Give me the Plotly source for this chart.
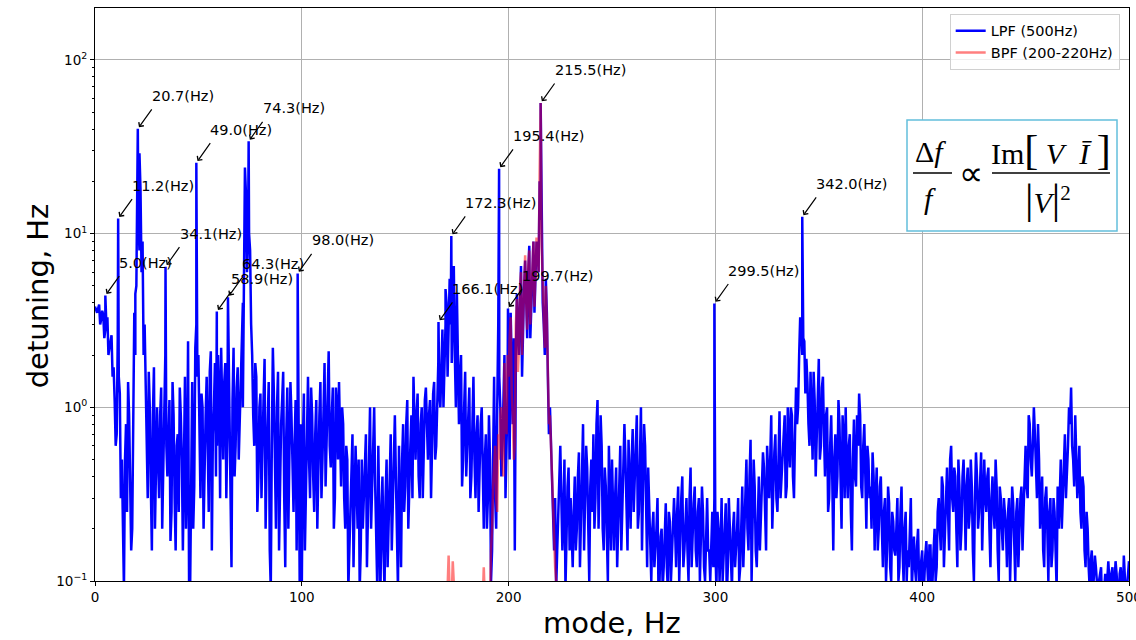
import math
import plotly.graph_objects as go

# ---------------- data ----------------
freq_base = list(range(0, 501))
lpf_base = [
    3.8, 3.5, 3.9, 3.2, 3.4, 2.8, 3.3, 2.2, 2.6, 1.7,
    0.6, 2.5, 1.2, 0.5, 0.09, 0.8, 1.4, 0.4, 0.2, 3.5,
    5.0, 12.0, 18.0, 9.0, 3.0, 0.6, 1.6, 0.35, 0.9, 0.2,
    1.0, 0.3, 1.3, 0.5, 2.0, 0.4, 1.1, 0.25, 0.9, 0.15,
    0.7, 1.3, 0.5, 0.9, 0.2, 2.4, 0.09, 1.4, 0.35, 3.0,
    2.0, 0.3, 1.0, 0.5, 1.5, 0.25, 2.1, 0.7, 1.8, 0.6,
    1.2, 2.2, 0.5, 1.8, 0.7, 1.5, 0.12, 2.2, 0.6, 1.7,
    0.8, 2.5, 6.0, 17.0, 9.0, 8.0, 2.0, 0.6, 1.5, 0.4,
    1.2, 0.7, 1.9, 0.5, 1.4, 0.09, 2.2, 0.6, 1.0, 0.15,
    0.8, 1.6, 0.12, 1.3, 0.5, 0.9, 0.25, 1.1, 0.7, 0.09,
    0.09, 1.2, 0.4, 1.5, 0.3, 0.9, 0.25, 1.1, 0.6, 1.4,
    0.5, 1.8, 0.7, 2.1, 0.45, 1.3, 0.3, 1.0, 1.4, 0.35,
    0.8, 0.2, 0.5, 0.15, 0.4, 0.12, 0.6, 0.2, 0.09, 0.5,
    0.3, 0.7, 0.25, 1.0, 0.4, 1.0, 0.15, 0.6, 0.08, 0.4,
    0.09, 0.5, 0.2, 0.7, 0.3, 0.9, 0.2, 0.6, 0.12, 0.8,
    0.35, 1.1, 0.4, 0.9, 1.5, 0.5, 1.2, 0.3, 1.0, 0.6,
    1.3, 0.5, 1.1, 0.8, 1.4, 0.6, 1.8, 1.0, 2.8, 1.5,
    4.0, 2.5, 3.0, 3.5, 2.0, 4.5, 0.8, 2.0, 0.5, 1.6,
    0.6, 1.3, 0.4, 1.5, 0.3, 0.9, 0.5, 1.0, 0.2, 0.7,
    0.3, 0.5, 0.15, 1.5, 0.2, 3.0, 1.0, 0.6, 2.0, 0.8,
    1.5, 3.5, 0.8, 0.15, 4.5, 2.0, 6.5, 3.0, 7.0, 2.5,
    8.5, 4.0, 9.0, 5.0, 8.5, 20.0, 9.0, 3.0, 5.5, 1.5,
    1.0, 0.4, 0.15, 0.09, 0.25, 0.6, 0.15, 0.5, 0.2, 0.45,
    0.3, 0.12, 0.4, 0.2, 0.55, 0.25, 0.8, 0.3, 0.45, 0.1,
    0.5, 0.7, 0.3, 1.1, 0.4, 0.6, 0.15, 0.35, 0.1, 0.3,
    0.5, 0.15, 0.45, 0.2, 0.6, 0.25, 0.8, 0.3, 0.65, 0.2,
    0.75, 0.35, 0.9, 0.25, 1.0, 0.4, 0.6, 0.12, 0.3, 0.1,
    0.25, 0.15, 0.3, 0.1, 0.2, 0.12, 0.28, 0.09, 0.22, 0.15,
    0.3, 0.12, 0.35, 0.2, 0.4, 0.15, 0.3, 0.1, 0.45, 0.2,
    0.35, 0.12, 0.3, 0.18, 0.25, 0.1, 0.3, 0.15, 0.2, 0.12,
    0.15, 0.25, 0.1, 0.3, 0.15, 0.28, 0.12, 0.2, 0.09, 0.25,
    0.15, 0.3, 0.12, 0.35, 0.2, 0.5, 0.15, 0.65, 0.2, 0.35,
    0.12, 0.4, 0.25, 0.55, 0.2, 0.6, 0.3, 0.9, 0.35, 0.7,
    0.25, 0.95, 0.4, 0.8, 0.3, 1.0, 0.45, 0.9, 0.3, 1.3,
    1.0, 3.3, 2.0, 2.4, 1.9, 0.8, 1.6, 0.5, 1.1, 0.7,
    1.9, 0.6, 1.5, 0.4, 1.0, 0.3, 0.9, 0.15, 0.7, 0.4,
    0.8, 0.2, 0.65, 1.0, 0.3, 0.7, 0.15, 0.85, 0.35, 0.6,
    0.9, 0.3, 0.8, 0.2, 0.5, 0.35, 0.55, 0.15, 0.45, 0.2,
    0.4, 0.12, 0.3, 0.15, 0.28, 0.1, 0.22, 0.14, 0.3, 0.12,
    0.35, 0.1, 0.25, 0.15, 0.2, 0.09, 0.18, 0.1, 0.2, 0.09,
    0.15, 0.1, 0.17, 0.09, 0.16, 0.1, 0.2, 0.12, 0.3, 0.15,
    0.35, 0.2, 0.45, 0.15, 0.6, 0.25, 0.4, 0.12, 0.35, 0.2,
    0.5, 0.15, 0.45, 0.25, 0.35, 0.1, 0.55, 0.2, 0.4, 0.15,
    0.5, 0.25, 0.45, 0.12, 0.4, 0.2, 0.35, 0.1, 0.3, 0.15,
    0.25, 0.12, 0.3, 0.18, 0.28, 0.1, 0.3, 0.2, 0.35, 0.25,
    0.6, 0.3, 0.8, 0.4, 1.0, 0.5, 0.8, 0.2, 0.4, 0.12,
    0.35, 0.1, 0.3, 0.15, 0.25, 0.09, 0.2, 0.5, 0.3, 0.7,
    0.4, 1.0, 1.3, 0.5, 0.9, 0.3, 0.6, 0.2, 0.35, 0.12,
    0.2, 0.09, 0.15, 0.1, 0.12, 0.08, 0.11, 0.07, 0.09, 0.08,
    0.13, 0.08, 0.12, 0.09, 0.11, 0.07, 0.12, 0.08, 0.1, 0.09,
    0.13,
]
# readings at the half-hertz bins (0.5, 1.5, ... 499.5 Hz)
freq_half = [k + 0.5 for k in range(0, 500)]
lpf_half = [
    3.6, 3.7, 3.0, 3.6, 2.5, 3.0, 2.0, 2.4, 1.5, 1.1,
    0.7, 1.5, 0.3, 0.12, 0.5, 0.25, 0.9, 0.15, 1.0, 2.0,
    25.0, 8.0, 6.0, 2.0, 1.2, 0.3, 1.0, 0.15, 1.7, 0.5,
    0.5, 0.9, 0.2, 1.2, 0.6, 0.8, 0.17, 1.4, 0.3, 0.6,
    0.25, 0.9, 0.15, 1.5, 0.4, 0.09, 0.7, 0.2, 2.2, 1.5,
    0.6, 1.2, 0.2, 0.9, 0.5, 1.6, 0.15, 1.0, 0.4, 2.0,
    0.3, 0.9, 1.4, 0.3, 2.6, 0.5, 1.1, 0.4, 1.3, 0.5,
    1.2, 4.0, 12.0, 6.0, 10.0, 3.0, 0.9, 1.8, 0.25, 1.0,
    0.3, 1.1, 0.2, 0.8, 0.15, 0.6, 1.2, 0.2, 1.6, 0.4,
    1.1, 0.3, 0.7, 0.2, 1.4, 0.4, 0.6, 0.15, 1.0, 0.8,
    0.6, 0.15, 0.8, 0.5, 1.3, 0.4, 0.7, 0.2, 0.9, 0.3,
    1.2, 0.35, 1.5, 0.6, 0.9, 0.2, 1.3, 0.5, 0.7, 1.0,
    0.3, 0.6, 0.09, 0.3, 0.7, 0.25, 0.35, 0.5, 0.15, 0.2,
    0.6, 0.12, 0.5, 0.2, 0.6, 0.35, 0.09, 0.3, 0.25, 0.15,
    0.3, 0.12, 0.4, 0.15, 0.5, 0.4, 0.09, 0.3, 0.5, 0.25,
    0.8, 0.2, 0.6, 0.3, 0.7, 0.9, 0.4, 0.8, 0.3, 1.1,
    0.7, 0.9, 0.3, 1.2, 0.5, 0.9, 1.2, 2.0, 1.0, 3.0,
    1.5, 4.0, 1.8, 2.5, 1.0, 1.2, 1.5, 0.35, 1.0, 0.4,
    1.0, 0.3, 0.8, 0.5, 0.7, 0.25, 0.8, 0.4, 0.5, 0.2,
    0.9, 0.1, 0.5, 0.3, 1.0, 1.5, 0.4, 1.2, 0.3, 1.2,
    0.5, 1.2, 2.5, 1.8, 3.0, 4.0, 1.5, 5.0, 4.0, 6.0,
    2.5, 6.5, 3.5, 9.0, 6.0, 12.0, 4.0, 2.0, 3.5, 0.7,
    0.6, 0.2, 0.3, 0.15, 0.4, 0.3, 0.25, 0.09, 0.35, 0.15,
    0.2, 0.25, 0.15, 0.4, 0.12, 0.5, 0.15, 0.6, 0.2, 0.35,
    0.25, 0.2, 0.8, 0.2, 0.9, 0.2, 0.45, 0.2, 0.6, 0.15,
    0.3, 0.3, 0.12, 0.4, 0.15, 0.35, 0.5, 0.15, 0.4, 0.5,
    0.25, 0.6, 0.2, 0.5, 0.15, 0.8, 0.25, 0.45, 0.15, 0.2,
    0.12, 0.2, 0.08, 0.18, 0.09, 0.2, 0.12, 0.25, 0.1, 0.2,
    0.2, 0.25, 0.1, 0.3, 0.12, 0.22, 0.15, 0.3, 0.12, 0.28,
    0.15, 0.25, 0.1, 0.35, 0.12, 0.2, 0.15, 0.1, 0.25, 0.3,
    0.09, 0.2, 0.15, 0.1, 0.22, 0.08, 0.3, 0.15, 0.2, 0.12,
    0.2, 0.1, 0.25, 0.12, 0.3, 0.2, 0.4, 0.1, 0.5, 0.15,
    0.3, 0.15, 0.35, 0.45, 0.15, 0.4, 0.5, 0.2, 0.55, 0.3,
    0.6, 0.3, 0.55, 0.9, 0.35, 0.6, 1.0, 0.4, 0.7, 0.8,
    2.0, 3.0, 2.5, 1.2, 1.4, 0.6, 1.0, 1.6, 0.4, 1.2,
    0.5, 1.3, 0.7, 0.9, 0.25, 0.6, 0.4, 0.5, 0.3, 1.1,
    0.4, 0.9, 0.3, 0.45, 0.6, 0.25, 0.5, 0.4, 0.9, 1.2,
    0.35, 0.6, 0.4, 0.6, 0.3, 0.2, 0.4, 0.3, 0.15, 0.35,
    0.2, 0.25, 0.1, 0.35, 0.12, 0.25, 0.15, 0.2, 0.1, 0.25,
    0.15, 0.2, 0.1, 0.12, 0.3, 0.15, 0.12, 0.16, 0.1, 0.13,
    0.09, 0.14, 0.12, 0.16, 0.08, 0.15, 0.1, 0.25, 0.2, 0.4,
    0.12, 0.3, 0.25, 0.5, 0.3, 0.45, 0.2, 0.5, 0.15, 0.4,
    0.3, 0.35, 0.2, 0.5, 0.15, 0.3, 0.4, 0.25, 0.55, 0.3,
    0.3, 0.4, 0.2, 0.3, 0.25, 0.5, 0.15, 0.35, 0.2, 0.3,
    0.2, 0.25, 0.1, 0.35, 0.15, 0.25, 0.12, 0.3, 0.15, 0.45,
    0.35, 0.9, 0.5, 0.6, 0.7, 0.3, 0.5, 0.3, 0.15, 0.3,
    0.2, 0.25, 0.12, 0.3, 0.15, 0.35, 0.3, 0.2, 0.5, 0.3,
    0.6, 0.8, 0.6, 0.35, 0.5, 0.4, 0.25, 0.4, 0.15, 0.25,
    0.12, 0.13, 0.08, 0.14, 0.09, 0.1, 0.12, 0.09, 0.11, 0.1,
    0.1, 0.11, 0.07, 0.13, 0.09, 0.11, 0.09, 0.14, 0.08, 0.12,
]
lpf_extra_freq = [19.5, 21.5, 22.5, 71.5, 72.5, 169.5, 171.5, 173.5]
lpf_extra = [4.5, 29.0, 7.0, 1.0, 24.0, 4.8, 5.5, 6.5]

peak_freq = [5.0, 11.2, 20.7, 34.1, 49.0, 58.9, 64.3, 74.3, 98.0,
             166.1, 172.3, 195.4, 199.7, 215.5, 299.5, 342.0]
peak_val = [4.4, 12.2, 40.1, 6.45, 25.6, 3.56, 4.3, 34.0, 5.9,
            3.1, 9.7, 23.6, 3.7, 56.5, 3.96, 12.5]

bpf_freq = list(range(165, 231))
bpf_val = [
    0.05, 0.04, 0.05, 0.04, 0.05,
    0.06, 0.14, 0.05, 0.13, 0.05, 0.04, 0.05, 0.04, 0.05, 0.04,
    0.05, 0.04, 0.05, 0.04, 0.05, 0.04, 0.06, 0.05, 0.12, 0.05,
    0.06, 0.08, 0.2, 0.45, 0.3, 0.7, 0.9, 0.5, 1.8, 0.7,
    1.5, 3.3, 0.9, 0.6, 4.2, 2.2, 6.0, 3.2, 7.5, 2.8,
    8.0, 4.5, 9.0, 5.5, 8.0, 22.0, 8.5, 3.2, 5.0, 1.6,
    0.9, 0.5, 0.2, 0.1, 0.08, 0.06, 0.05, 0.04, 0.05, 0.04, 0.03,
]
bpf_half_freq = [k + 0.5 for k in range(190, 225)]
bpf_half = [
    0.07, 0.15, 0.35, 0.6, 0.25, 0.5, 1.0, 0.4, 1.2, 2.0,
    2.5, 1.2, 0.5, 3.0, 1.6, 5.0, 2.0, 5.5, 4.0, 6.5,
    3.0, 6.5, 3.8, 9.5, 6.0, 56.5, 4.5, 2.2, 3.2, 0.8,
    0.6, 0.25, 0.12, 0.06, 0.05,
]

x_ticks = [0, 100, 200, 300, 400, 500]
y_ticks = [0.1, 1, 10, 100]
y_tick_text = ["10<sup>−1</sup>", "10<sup>0</sup>", "10<sup>1</sup>", "10<sup>2</sup>"]
y_minor = [m * d for d in (0.1, 1, 10, 100) for m in range(2, 10)]

# merge LPF series (stable sort on frequency)
lpf_pts = sorted(zip(freq_base + freq_half + lpf_extra_freq + peak_freq,
                     lpf_base + lpf_half + lpf_extra + peak_val), key=lambda p: p[0])
lpf_x = [p[0] for p in lpf_pts]
lpf_y = [p[1] for p in lpf_pts]
bpf_pts = sorted(zip(bpf_freq + bpf_half_freq, bpf_val + bpf_half), key=lambda p: p[0])
bpf_x = [p[0] for p in bpf_pts]
bpf_y = [p[1] for p in bpf_pts]

FONT = "DejaVu Sans"
fig = go.Figure()
fig.add_trace(go.Scatter(x=lpf_x, y=lpf_y, mode="lines", name="LPF (500Hz)",
                         line=dict(color="#0000ff", width=2.5)))
fig.add_trace(go.Scatter(x=bpf_x, y=bpf_y, mode="lines", name="BPF (200-220Hz)",
                         line=dict(color="#ff0000", width=2.5), opacity=0.5))

annotations = []
for f, v in zip(peak_freq, peak_val):
    ly = math.log10(v)  # annotation coordinates on a log axis are in log10 units
    annotations.append(dict(x=f, y=ly, xref="x", yref="y", text="",
                            showarrow=True, arrowhead=4, arrowsize=1, arrowwidth=1.2,
                            arrowcolor="black", ax=15, ay=-21, standoff=2))
    annotations.append(dict(x=f, y=ly, xref="x", yref="y", text=f"{f:.1f}(Hz)",
                            showarrow=False, xanchor="left", yanchor="middle",
                            xshift=12, yshift=33,
                            font=dict(family=FONT, size=14.5, color="black")))

# axis titles
annotations.append(dict(x=0.5, y=-0.074, xref="paper", yref="paper", text="mode, Hz",
                        showarrow=False, xanchor="center", yanchor="middle",
                        font=dict(family=FONT, size=29, color="black")))
annotations.append(dict(x=-0.055, y=0.497, xref="paper", yref="paper", text="detuning, Hz",
                        showarrow=False, xanchor="center", yanchor="middle", textangle=-90,
                        font=dict(family=FONT, size=29, color="black")))

# formula
SERIF = "Liberation Serif"
BIG = "<span style='font-size:42px'>"
formula = [
    (0.8085, 0.7487, "Δ<i>f</i>", 30),
    (0.8075, 0.6684, "<i>f</i>", 30),
    (0.8472, 0.7120, "∝", 34),
    (0.9246, 0.7522, "Im" + BIG + "[</span> <i>V</i>  <i>Ī</i> " + BIG + "]</span>", 30),
    (0.9217, 0.6667, BIG + "|</span><i>V</i>" + BIG + "|</span><sup>2</sup>", 30),
]
for fx, fy, txt, sz in formula:
    annotations.append(dict(x=fx, y=fy, xref="paper", yref="paper", text=txt,
                            showarrow=False, xanchor="center", yanchor="middle",
                            font=dict(family=SERIF, size=sz, color="black")))

shapes = [
    dict(type="rect", xref="paper", yref="paper", x0=0.7853, x1=0.9884, y0=0.6108, y1=0.8045,
         line=dict(color="#63bfdc", width=1.5), fillcolor="rgba(255,255,255,1)", layer="above"),
    dict(type="line", xref="paper", yref="paper", x0=0.7911, x1=0.8288, y0=0.7120, y1=0.7120,
         line=dict(color="black", width=1.5)),
    dict(type="line", xref="paper", yref="paper", x0=0.8675, x1=0.9816, y0=0.7120, y1=0.7120,
         line=dict(color="black", width=1.5)),
]

fig.update_layout(
    width=1136, height=640,
    margin=dict(l=95, r=7, t=8, b=59, autoexpand=False),
    paper_bgcolor="white", plot_bgcolor="white",
    font=dict(family=FONT, size=13, color="black"),
    showlegend=True,
    legend=dict(x=0.991, y=0.99, xanchor="right", yanchor="top",
                bgcolor="rgba(255,255,255,0.8)", bordercolor="#d0d0d0", borderwidth=1,
                font=dict(family=FONT, size=14.5, color="black")),
    annotations=annotations,
    shapes=shapes,
)
fig.update_xaxes(range=[0, 500], tickvals=x_ticks, ticks="outside", ticklen=4,
                 tickcolor="black", showline=True, linecolor="black", linewidth=1,
                 mirror=True, showgrid=True, gridcolor="#b0b0b0", gridwidth=1,
                 zeroline=False, tickfont=dict(size=13.5), ticklabeloverflow="allow",
                 automargin=False)
fig.update_yaxes(type="log", range=[-1, 2.299], tickvals=y_ticks, ticktext=y_tick_text,
                 ticks="outside", ticklen=4, tickcolor="black", showline=True,
                 linecolor="black", linewidth=1, mirror=True, showgrid=True,
                 gridcolor="#b0b0b0", gridwidth=1, zeroline=False, tickfont=dict(size=13.5),
                 automargin=False,
                 minor=dict(tickvals=y_minor, ticks="outside", ticklen=2, tickcolor="black",
                            showgrid=False))

fig.write_html("out.html")
